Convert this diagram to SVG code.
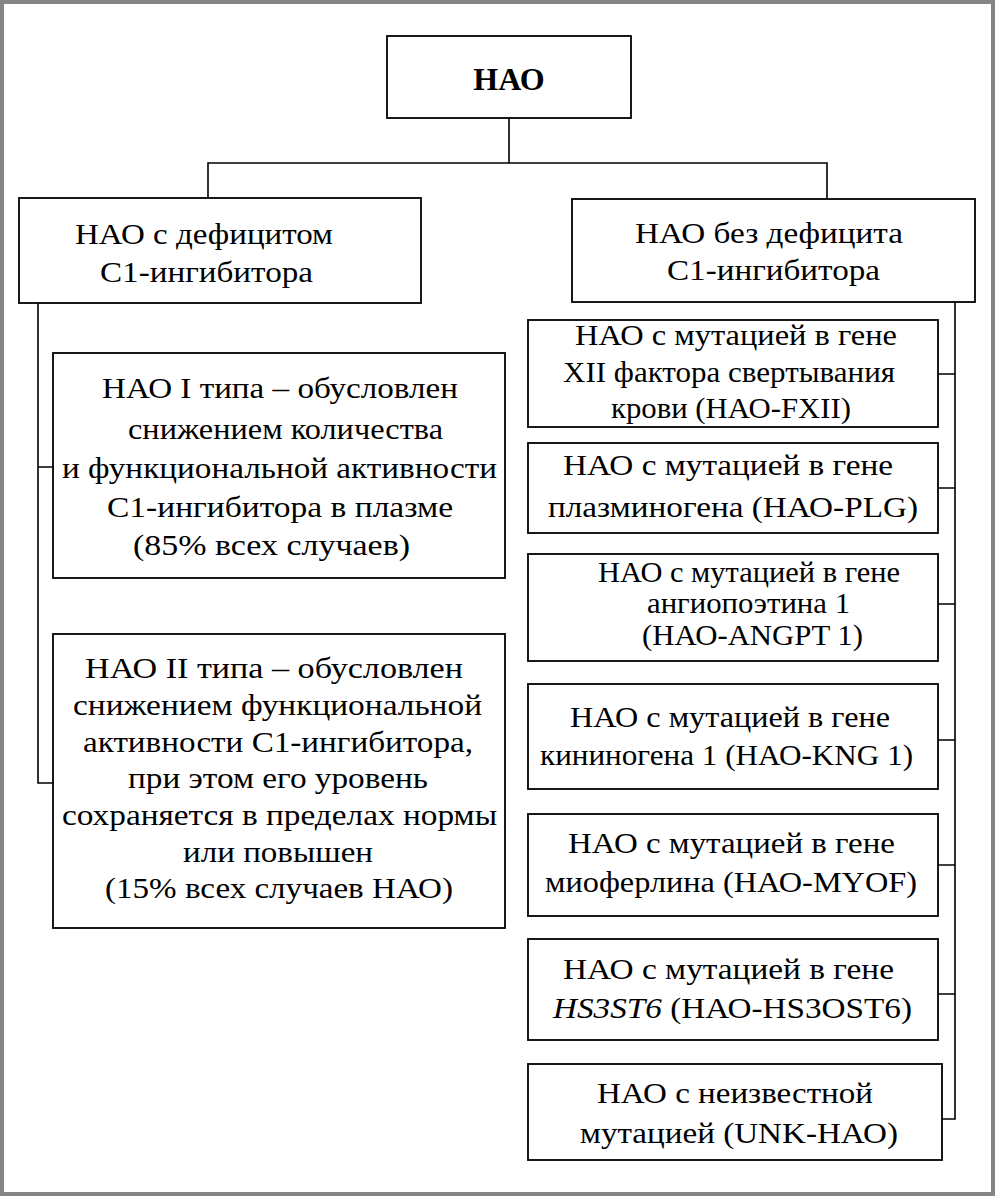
<svg xmlns="http://www.w3.org/2000/svg" width="995" height="1196" viewBox="0 0 995 1196">
<style>
.box{fill:#fff;stroke:#000;stroke-width:1.8}
.ln{fill:none;stroke:#000;stroke-width:1.6}
text{font-size:30px;fill:#000;text-anchor:middle}
.b{font-weight:bold;font-size:32px}
</style>
<rect x="2" y="2" width="991" height="1192" fill="#fff" stroke="#858585" stroke-width="4"/>
<g id="connectors">
<path class="ln" d="M509,118 V163 M208,199 V163 H827 V199"/>
<path class="ln" d="M38,303 V783 H53 M38,467 H53"/>
<path class="ln" d="M955,302 V1119 H942 M938,374 H955 M938,488 H955 M938,604 H955 M938,740 H955 M938,865 H955 M938,994 H955"/>
</g>
<g id="n-hao"><rect class="box" x="387" y="36" width="244" height="82"/><text class="b" font-family="Liberation Serif" x="509" y="90">НАО</text></g>
<g id="n-def"><rect class="box" x="19" y="198" width="402" height="105"/>
<text font-family="Liberation Serif" x="204" y="244" textLength="258" lengthAdjust="spacingAndGlyphs">НАО с дефицитом</text>
<text font-family="Liberation Serif" x="206.5" y="282" textLength="213" lengthAdjust="spacingAndGlyphs">С1-ингибитора</text></g>
<g id="n-nodef"><rect class="box" x="572" y="199" width="403" height="103"/>
<text font-family="Liberation Serif" x="769" y="243" textLength="268" lengthAdjust="spacingAndGlyphs">НАО без дефицита</text>
<text font-family="Liberation Serif" x="773.5" y="280" textLength="213" lengthAdjust="spacingAndGlyphs">С1-ингибитора</text></g>
<g id="n-type1"><rect class="box" x="53" y="353" width="452" height="225"/>
<text font-family="Liberation Serif" x="280" y="398" textLength="356" lengthAdjust="spacingAndGlyphs">НАО I типа – обусловлен</text>
<text font-family="Liberation Serif" x="285.5" y="439" textLength="315" lengthAdjust="spacingAndGlyphs">снижением количества</text>
<text font-family="Liberation Serif" x="279.5" y="478" textLength="435" lengthAdjust="spacingAndGlyphs">и функциональной активности</text>
<text font-family="Liberation Serif" x="280" y="517" textLength="346" lengthAdjust="spacingAndGlyphs">С1-ингибитора в плазме</text>
<text font-family="Liberation Serif" x="271.5" y="555" textLength="277" lengthAdjust="spacingAndGlyphs">(85% всех случаев)</text></g>
<g id="n-type2"><rect class="box" x="53" y="634" width="452" height="294"/>
<text font-family="Liberation Serif" x="274" y="678" textLength="378" lengthAdjust="spacingAndGlyphs">НАО II типа – обусловлен</text>
<text font-family="Liberation Serif" x="277.5" y="715" textLength="409" lengthAdjust="spacingAndGlyphs">снижением функциональной</text>
<text font-family="Liberation Serif" x="278" y="752" textLength="390" lengthAdjust="spacingAndGlyphs">активности С1-ингибитора,</text>
<text font-family="Liberation Serif" x="278" y="788" textLength="300" lengthAdjust="spacingAndGlyphs">при этом его уровень</text>
<text font-family="Liberation Serif" x="279.5" y="825" textLength="435" lengthAdjust="spacingAndGlyphs">сохраняется в пределах нормы</text>
<text font-family="Liberation Serif" x="278" y="862" textLength="190" lengthAdjust="spacingAndGlyphs">или повышен</text>
<text font-family="Liberation Serif" x="279" y="898" textLength="348" lengthAdjust="spacingAndGlyphs">(15% всех случаев НАО)</text></g>
<g id="n-fxii"><rect class="box" x="528" y="320" width="410" height="107"/>
<text font-family="Liberation Serif" x="736" y="345" textLength="322" lengthAdjust="spacingAndGlyphs">НАО с мутацией в гене</text>
<text font-family="Liberation Serif" x="729" y="382" textLength="332" lengthAdjust="spacingAndGlyphs">XII фактора свертывания</text>
<text font-family="Liberation Serif" x="731" y="418" textLength="240" lengthAdjust="spacingAndGlyphs">крови (НАО-FXII)</text></g>
<g id="n-plg"><rect class="box" x="528" y="443" width="410" height="90"/>
<text font-family="Liberation Serif" x="728" y="475" textLength="330" lengthAdjust="spacingAndGlyphs">НАО с мутацией в гене</text>
<text font-family="Liberation Serif" x="733" y="517" textLength="370" lengthAdjust="spacingAndGlyphs">плазминогена (НАО-PLG)</text></g>
<g id="n-angpt"><rect class="box" x="528" y="554" width="410" height="107"/>
<text font-family="Liberation Serif" x="749" y="582" textLength="302" lengthAdjust="spacingAndGlyphs">НАО с мутацией в гене</text>
<text font-family="Liberation Serif" x="748.5" y="613" textLength="203" lengthAdjust="spacingAndGlyphs">ангиопоэтина 1</text>
<text font-family="Liberation Serif" x="752.5" y="645" textLength="221" lengthAdjust="spacingAndGlyphs">(НАО-ANGPT 1)</text></g>
<g id="n-kng"><rect class="box" x="528" y="684" width="410" height="105"/>
<text font-family="Liberation Serif" x="730" y="727" textLength="320" lengthAdjust="spacingAndGlyphs">НАО с мутацией в гене</text>
<text font-family="Liberation Serif" x="726.5" y="765" textLength="373" lengthAdjust="spacingAndGlyphs">кининогена 1 (НАО-KNG 1)</text></g>
<g id="n-myof"><rect class="box" x="528" y="814" width="410" height="102"/>
<text font-family="Liberation Serif" x="731.5" y="853" textLength="327" lengthAdjust="spacingAndGlyphs">НАО с мутацией в гене</text>
<text font-family="Liberation Serif" x="731" y="892" textLength="372" lengthAdjust="spacingAndGlyphs">миоферлина (НАО-MYOF)</text></g>
<g id="n-hs3"><rect class="box" x="528" y="939" width="410" height="101"/>
<text font-family="Liberation Serif" x="728.5" y="979" textLength="331" lengthAdjust="spacingAndGlyphs">НАО с мутацией в гене</text>
<text font-family="Liberation Serif" x="732.5" y="1018" textLength="359" lengthAdjust="spacingAndGlyphs"><tspan font-style="italic">HS3ST6</tspan> (НАО-HS3OST6)</text></g>
<g id="n-unk"><rect class="box" x="528" y="1064" width="414" height="96"/>
<text font-family="Liberation Serif" x="735" y="1103" textLength="276" lengthAdjust="spacingAndGlyphs">НАО с неизвестной</text>
<text font-family="Liberation Serif" x="739" y="1143" textLength="318" lengthAdjust="spacingAndGlyphs">мутацией (UNK-НАО)</text></g>
</svg>
